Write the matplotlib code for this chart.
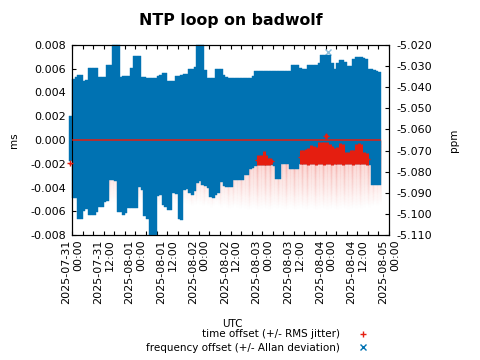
import numpy as np
import pandas as pd
import matplotlib
matplotlib.use("Agg")
import matplotlib.pyplot as plt
import matplotlib.dates as mdates
from matplotlib.collections import LineCollection
from matplotlib.lines import Line2D
from matplotlib.ticker import FormatStrFormatter

plt.rcParams['font.family'] = ['DejaVu Sans']
plt.rcParams['axes.unicode_minus'] = False

TITLE = "NTP loop on badwolf"
XLABEL = "UTC"
YLABEL = "ms"
Y2LABEL = "ppm"
LEG_TIME = "time offset (+/- RMS jitter)"
LEG_FREQ = "frequency offset (+/- Allan deviation)"

# ---- frequency offset (ppm) +/- Allan deviation (ppm), hourly from 2025-07-30 23:30
freq_start = "2025-07-30 23:30"
freq_ppm = [
    -5.0642, -5.0643, -5.0639, -5.0684, -5.0684, -5.0678, -5.0672, -5.0657, -5.0657, -5.0657,
    -5.0651, -5.0660, -5.0660, -5.0647, -5.0616, -5.0566, -5.0519, -5.0523, -5.0595, -5.0672,
    -5.0676, -5.0673, -5.0661, -5.0640, -5.0613, -5.0613, -5.0562, -5.0619, -5.0682, -5.0689,
    -5.0728, -5.0728, -5.0728, -5.0630, -5.0625, -5.0644, -5.0648, -5.0677, -5.0677, -5.0637,
    -5.0628, -5.0687, -5.0685, -5.0612, -5.0609, -5.0608, -5.0611, -5.0597, -5.0526, -5.0523,
    -5.0532, -5.0594, -5.0616, -5.0639, -5.0642, -5.0611, -5.0608, -5.0580, -5.0605, -5.0613,
    -5.0615, -5.0615, -5.0597, -5.0597, -5.0597, -5.0597, -5.0585, -5.0585, -5.0570, -5.0565,
    -5.0547, -5.0545, -5.0545, -5.0545, -5.0545, -5.0545, -5.0545, -5.0547, -5.0578, -5.0578,
    -5.0542, -5.0542, -5.0543, -5.0553, -5.0539, -5.0539, -5.0539, -5.0535, -5.0538, -5.0539,
    -5.0529, -5.0528, -5.0528, -5.0528, -5.0523, -5.0504, -5.0504, -5.0504, -5.0504, -5.0523,
    -5.0538, -5.0523, -5.0518, -5.0518, -5.0521, -5.0530, -5.0530, -5.0515, -5.0511, -5.0509,
    -5.0509, -5.0512, -5.0514, -5.0540, -5.0588, -5.0591, -5.0594, -5.0597,
]
allan_ppm = [
    0.0107, 0.0280, 0.0287, 0.0341, 0.0341, 0.0309, 0.0304, 0.0347, 0.0347, 0.0347,
    0.0342, 0.0308, 0.0308, 0.0295, 0.0321, 0.0273, 0.0319, 0.0323, 0.0395, 0.0321,
    0.0328, 0.0325, 0.0313, 0.0333, 0.0360, 0.0360, 0.0309, 0.0267, 0.0330, 0.0333,
    0.0372, 0.0372, 0.0372, 0.0284, 0.0285, 0.0313, 0.0317, 0.0305, 0.0305, 0.0265,
    0.0280, 0.0339, 0.0342, 0.0274, 0.0271, 0.0295, 0.0298, 0.0295, 0.0326, 0.0323,
    0.0332, 0.0276, 0.0259, 0.0281, 0.0284, 0.0298, 0.0295, 0.0267, 0.0264, 0.0261,
    0.0259, 0.0259, 0.0241, 0.0241, 0.0241, 0.0241, 0.0230, 0.0230, 0.0215, 0.0219,
    0.0226, 0.0224, 0.0224, 0.0224, 0.0224, 0.0224, 0.0224, 0.0226, 0.0257, 0.0257,
    0.0221, 0.0221, 0.0222, 0.0232, 0.0246, 0.0246, 0.0246, 0.0228, 0.0225, 0.0224,
    0.0233, 0.0234, 0.0234, 0.0234, 0.0239, 0.0259, 0.0259, 0.0259, 0.0259, 0.0239,
    0.0225, 0.0239, 0.0245, 0.0245, 0.0242, 0.0232, 0.0232, 0.0248, 0.0252, 0.0253,
    0.0253, 0.0250, 0.0249, 0.0228, 0.0276, 0.0273, 0.0270, 0.0267,
]
freq_peak_time = ["2025-08-04 00:51"]
freq_peak_ppm = [-5.0235]

# ---- time offset (ms) +/- RMS jitter (ms), hourly from 2025-07-31 00:30
offset_start = "2025-07-31 00:30"
offset_ms = [
    0.0, 0.0, 0.0, 0.0, 0.0, 0.0, 0.0, 0.0, 0.0, 0.0, 0.0, 0.0,
    0.0, 0.0, 0.0, 0.0, 0.0, 0.0, 0.0, 0.0, 0.0, 0.0, 0.0, 0.0,
    0.0, 0.0, 0.0, 0.0, 0.0, 0.0, 0.0, 0.0, 0.0, 0.0, 0.0, 0.0,
    0.0, 0.0, 0.0, 0.0, 0.0, 0.0, 0.0, 0.0, 0.0, 0.0, 0.0, 0.0,
    0.0, 0.0, 0.0, 0.0, 0.0, 0.0, 0.0, 0.0, 0.0, 0.0, 0.0, 0.0,
    0.0, 0.0, 0.0, 0.0, 0.0, 0.0, 0.0, 0.0, 0.0, 0.0, 0.0, 0.0,
    0.0, 0.0, 0.0, 0.0, 0.0, 0.0, 0.0, 0.0, 0.0, 0.0, 0.0, 0.0,
    0.0, 0.0, 0.0, 0.0, 0.0, 0.0, 0.0, 0.0, 0.0, 0.0, 0.0, 0.0,
    0.0, 0.0, 0.0, 0.0, 0.0, 0.0, 0.0, 0.0, 0.0, 0.0, 0.0, 0.0,
    0.0, 0.0, 0.0, 0.0, 0.0, 0.0, 0.0, 0.0, 0.0,
]
jitter_ms = [
    0.0052, 0.0053, 0.0052, 0.0053, 0.0054, 0.0053, 0.0052, 0.0053, 0.0054, 0.0053, 0.0052, 0.0053,
    0.0054, 0.0053, 0.0052, 0.0051, 0.0052, 0.0053, 0.0054, 0.0053, 0.0052, 0.0053, 0.0054, 0.0053,
    0.0052, 0.0051, 0.0052, 0.0053, 0.0054, 0.0053, 0.0052, 0.0053, 0.0054, 0.0053, 0.0052, 0.0053,
    0.0054, 0.0053, 0.0052, 0.0053, 0.0054, 0.0053, 0.0052, 0.0053, 0.0054, 0.0055, 0.0054, 0.0053,
    0.0054, 0.0055, 0.0054, 0.0055, 0.0056, 0.0055, 0.0054, 0.0055, 0.0056, 0.0055, 0.0056, 0.0057,
    0.0056, 0.0055, 0.0056, 0.0057, 0.0056, 0.0057, 0.0058, 0.0057, 0.0056, 0.0057, 0.0058, 0.0057,
    0.0056, 0.0057, 0.0058, 0.0057, 0.0056, 0.0057, 0.0056, 0.0057, 0.0058, 0.0057, 0.0056, 0.0057,
    0.0058, 0.0057, 0.0056, 0.0057, 0.0058, 0.0057, 0.0056, 0.0057, 0.0058, 0.0057, 0.0056, 0.0057,
    0.0058, 0.0057, 0.0056, 0.0057, 0.0058, 0.0057, 0.0056, 0.0057, 0.0058, 0.0057, 0.0056, 0.0057,
    0.0056, 0.0057, 0.0056, 0.0055, 0.0056, 0.0055, 0.0054, 0.0055, 0.0054,
]
# larger time offsets (ms) with their RMS jitter (ms)
outlier_times = [
    "2025-07-30 23:15",
    "2025-08-02 22:30", "2025-08-02 23:30", "2025-08-03 00:30", "2025-08-03 01:30",
    "2025-08-03 02:30", "2025-08-03 03:30",
    "2025-08-03 14:30", "2025-08-03 15:30", "2025-08-03 16:30", "2025-08-03 17:30",
    "2025-08-03 18:30", "2025-08-03 19:30", "2025-08-03 20:30", "2025-08-03 21:30",
    "2025-08-03 22:30", "2025-08-03 23:30", "2025-08-04 00:30", "2025-08-04 01:30",
    "2025-08-04 02:30", "2025-08-04 03:30", "2025-08-04 04:30", "2025-08-04 05:30",
    "2025-08-04 06:30", "2025-08-04 07:30", "2025-08-04 08:30", "2025-08-04 09:30",
    "2025-08-04 10:30", "2025-08-04 11:30", "2025-08-04 12:30", "2025-08-04 13:30",
    "2025-08-04 14:30", "2025-08-04 15:30", "2025-08-04 00:06",
]
outlier_ms = [
    -0.00195,
    -0.00167, -0.00167, -0.00153, -0.00170, -0.00180, -0.00180,
    -0.00140, -0.00143, -0.00138, -0.00140, -0.00120, -0.00125, -0.00135, -0.00110,
    -0.00108, -0.00113, -0.00110, -0.00115, -0.00130, -0.00133, -0.00130, -0.00113,
    -0.00120, -0.00150, -0.00153, -0.00140, -0.00145, -0.00115, -0.00113, -0.00115,
    -0.00153, -0.00160, 0.00036,
]
outlier_jit = [
    0.00005,
    0.00043, 0.00043, 0.00057, 0.00040, 0.00030, 0.00020,
    0.00060, 0.00063, 0.00063, 0.00070, 0.00080, 0.00075, 0.00075, 0.00090,
    0.00093, 0.00098, 0.00090, 0.00085, 0.00080, 0.00068, 0.00070, 0.00088,
    0.00090, 0.00050, 0.00048, 0.00060, 0.00065, 0.00085, 0.00088, 0.00085,
    0.00048, 0.00050, 0.00015,
]

y_ticks = [-0.008, -0.006, -0.004, -0.002, 0.0, 0.002, 0.004, 0.006, 0.008]
y2_ticks = [-5.11, -5.10, -5.09, -5.08, -5.07, -5.06, -5.05, -5.04, -5.03, -5.02]
x_start, x_end = "2025-07-31 00:00", "2025-08-05 00:00"

BLUE = "#0072b2"
RED = "#e51e10"

# ---------------------------------------------------------------
def tnum(seq):
    return mdates.date2num(pd.to_datetime(seq).to_pydatetime())

freq_t = tnum(pd.date_range(freq_start, periods=len(freq_ppm), freq="h"))
off_t = tnum(pd.date_range(offset_start, periods=len(offset_ms), freq="h"))
out_t = tnum(outlier_times)
peak_t = tnum(freq_peak_time)
freq = np.array(freq_ppm)
allan = np.array(allan_ppm)

fig = plt.figure(figsize=(4.8, 3.6), dpi=100)
L, R, T, B = 72, 389, 45, 235
ax = fig.add_axes([L / 480, 1 - B / 360, (R - L) / 480, (B - T) / 360])
ax2 = ax.twinx()
ax3 = ax.twinx()

xmin, xmax = tnum([x_start, x_end])
ax.set_xlim(xmin, xmax)
ax.set_ylim(-0.008, 0.008)
ax2.set_ylim(-5.11, -5.02)
ax3.set_ylim(-0.008, 0.008)
ax3.set_axis_off()

# RMS jitter (faint, fading)
segs, cols = [], []
N = 24
rr, gg, bb = matplotlib.colors.to_rgb(RED)
for x, o, j in zip(off_t, offset_ms, jitter_ms):
    edges = np.linspace(o - j, o, N + 1)
    for k in range(N):
        segs.append([(x, edges[k]), (x, edges[k + 1])])
        cols.append((rr, gg, bb, 0.36 * (k + 0.5) / N))
ax.add_collection(LineCollection(segs, colors=cols, linewidths=1.8, capstyle="butt"))

# frequency offset +/- Allan deviation
bars = ax2.bar(freq_t, 2 * allan, bottom=freq - allan, width=1 / 24,
               color=BLUE, edgecolor=BLUE, linewidth=0.3)
for p in bars:
    p.set_clip_on(False)
ax2.plot(peak_t, freq_peak_ppm, linestyle="none", marker="x", color=BLUE,
         alpha=0.45, markersize=4, mew=1)

# time offset
ax3.plot(off_t, offset_ms, color=RED, linewidth=1.1)
eb = ax3.errorbar(out_t, outlier_ms, yerr=outlier_jit, fmt="+", color=RED,
                  ecolor=RED, elinewidth=2.2, capsize=0, markersize=4, mew=1)
for a in eb.lines[0:1]:
    a.set_clip_on(False)
for c in eb.lines[2]:
    c.set_clip_on(False)

# ticks
major = tnum(pd.date_range(x_start, x_end, freq="12h"))
minor = tnum(pd.date_range(x_start, x_end, freq="4h"))
labels = [t.strftime("%Y-%m-%d\n%H:%M") for t in pd.date_range(x_start, x_end, freq="12h")]
ax.set_xticks(major, labels, rotation=90, ma="right", fontsize=8)
ax.set_xticks(minor, minor=True)
ax.set_yticks(y_ticks)
ax.yaxis.set_major_formatter(FormatStrFormatter("%.3f"))
ax2.set_yticks(y2_ticks)
ax2.yaxis.set_major_formatter(FormatStrFormatter("%.3f"))

ax.tick_params(axis="x", which="both", direction="in", top=True, bottom=True,
               length=3, width=0.8, pad=3)
ax.tick_params(axis="y", which="both", direction="in", left=True, right=False,
               length=3, width=0.8, pad=4.5, labelsize=8)
ax2.tick_params(axis="y", which="both", direction="in", right=True, left=False,
                length=3, width=0.8, pad=5.5, labelsize=8)
for a in (ax, ax2):
    for s in a.spines.values():
        s.set_linewidth(0.8)

fig.text(231 / 480, 1 - 20 / 360, TITLE, ha="center", va="center",
         fontsize=11.3, fontweight="bold")
fig.text(14 / 480, 1 - 140 / 360, YLABEL, rotation=90, ha="center", va="center", fontsize=7.5)
fig.text(454 / 480, 1 - 140 / 360, Y2LABEL, rotation=90, ha="center", va="center", fontsize=7.5)
fig.text(232 / 480, 1 - 324 / 360, XLABEL, ha="center", va="center", fontsize=7.5)

handles = [Line2D([], [], linestyle="none", marker="+", color=RED, markersize=5, mew=1),
           Line2D([], [], linestyle="none", marker="x", color=BLUE, markersize=4, mew=1)]
ax3.legend(handles, [LEG_TIME, LEG_FREQ], loc="center right",
           bbox_to_anchor=(371 / 480, 1 - 341 / 360), bbox_transform=fig.transFigure,
           frameon=False, markerfirst=False, fontsize=7.5, handlelength=1.5,
           handletextpad=1.5, labelspacing=0.3, borderpad=0, borderaxespad=0)

fig.savefig("out.png", dpi=100)
